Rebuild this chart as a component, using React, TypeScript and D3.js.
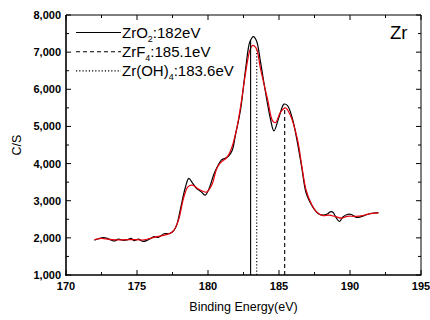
import React from "react";
import * as d3 from "d3";

// ---- data ----
const rawEnergy = [172.0,172.3,172.6,172.9,173.2,173.4,173.7,174.0,174.3,174.6,174.8,175.1,175.4,175.7,176.0,176.2,176.5,176.9,177.3,177.6,177.8,178.1,178.4,178.65,178.9,179.2,179.5,179.8,180.1,180.4,180.7,180.95,181.2,181.45,181.7,181.95,182.3,182.65,182.95,183.2,183.42,183.7,184.05,184.4,184.64,185.0,185.35,185.6,185.95,186.3,186.6,186.9,187.2,187.5,187.8,188.1,188.4,188.6,188.8,189.0,189.25,189.5,189.8,190.1,190.4,190.7,191.0,191.4,191.7,192.0];
const rawCounts = [1940,1975,2005,1990,1935,1915,1965,1935,1945,1985,1925,1965,1905,1930,1990,2035,2010,2110,2115,2200,2350,2850,3350,3600,3480,3330,3250,3150,3350,3700,3950,4100,4140,4200,4350,4800,5470,6550,7280,7420,7300,6730,5920,5200,4880,5250,5600,5560,5200,4560,3900,3220,2950,2760,2640,2610,2640,2700,2690,2560,2440,2560,2630,2630,2560,2560,2600,2650,2670,2680];

const fitEnergy = [172.0,172.5,173.0,173.5,174.0,174.5,175.0,175.5,176.0,176.5,177.0,177.5,177.9,178.3,178.6,178.9,179.3,179.6,179.9,180.3,180.6,180.9,181.3,181.6,182.0,182.3,182.65,182.95,183.15,183.4,183.7,184.2,184.55,184.75,185.1,185.45,185.8,186.3,186.6,186.9,187.3,187.7,188.1,188.5,189.0,189.4,189.8,190.3,190.8,191.3,192.0];
const fitCounts = [1950,1985,1960,1945,1945,1955,1950,1945,1995,2040,2080,2160,2450,3100,3380,3420,3320,3260,3230,3450,3850,4030,4150,4350,4900,5550,6450,7050,7180,7100,6550,5720,5150,5100,5380,5500,5300,4650,3950,3300,2900,2680,2600,2610,2570,2530,2580,2580,2590,2640,2670];

const peakNames = ["ZrO", "ZrF", "Zr(OH)"];
const peakSubs = ["2", "4", "4"];
const peakLabels = [":182eV", ":185.1eV", ":183.6eV"];
const peakPositions = [183.0, 185.4, 183.43];
const peakDash = ["none", "4,3", "1.2,2"];

const xTicks = [170, 175, 180, 185, 190, 195];
const yTicks = [1000, 2000, 3000, 4000, 5000, 6000, 7000, 8000];

const FONT = "'Liberation Sans', Arial, Helvetica, sans-serif";

export default function App() {
  const W = 430, H = 320;
  const L = 66, R = 421, T = 15, B = 275;
  const x = d3.scaleLinear().domain([170, 195]).range([L, R]);
  const y = d3.scaleLinear().domain([1000, 8000]).range([B, T]);

  const raw = rawEnergy.map((e, i) => [e, rawCounts[i]] as [number, number]);
  const fit = fitEnergy.map((e, i) => [e, fitCounts[i]] as [number, number]);
  const line = d3.line<[number, number]>().x(d => x(d[0])).y(d => y(d[1])).curve(d3.curveCatmullRom.alpha(0.5));

  const fitAt = (e: number) => {
    const i = d3.bisector((d: [number, number]) => d[0]).left(fit, e);
    const a = fit[Math.max(0, i - 1)], b = fit[Math.min(fit.length - 1, i)];
    if (a[0] === b[0]) return a[1];
    return a[1] + (b[1] - a[1]) * (e - a[0]) / (b[0] - a[0]);
  };
  const rawAt = (e: number) => {
    const i = d3.bisector((d: [number, number]) => d[0]).left(raw, e);
    const a = raw[Math.max(0, i - 1)], b = raw[Math.min(raw.length - 1, i)];
    if (a[0] === b[0]) return a[1];
    return a[1] + (b[1] - a[1]) * (e - a[0]) / (b[0] - a[0]);
  };

  const xMinor = d3.range(170, 195.01, 2.5);
  const yMinor = d3.range(1000, 8000.1, 500);

  return (
    <svg width={W} height={H} style={{ position: "absolute", left: 0, top: 0, background: "#fff" }} fontFamily={FONT}>
      <rect x={0} y={0} width={W} height={H} fill="#fff" />
      {/* curves */}
      <path d={line(raw) || ""} fill="none" stroke="#000" strokeWidth={1.2} />
      <path d={line(fit) || ""} fill="none" stroke="#e8000b" strokeWidth={1.2} />
      {/* peak lines */}
      {peakPositions.map((p, i) => (
        <line key={i} x1={x(p)} x2={x(p)} y1={B} y2={y(i === 0 ? rawAt(p) : fitAt(p))}
          stroke="#000" strokeWidth={1.1} strokeDasharray={peakDash[i]} />
      ))}
      {/* frame */}
      <line x1={L} x2={R} y1={T} y2={T} stroke="#000" strokeWidth={1} />
      <line x1={R} x2={R} y1={T} y2={B} stroke="#000" strokeWidth={1} />
      <line x1={L} x2={L} y1={T} y2={B + 0.75} stroke="#000" strokeWidth={1.6} />
      <line x1={L - 0.75} x2={R + 0.5} y1={B} y2={B} stroke="#000" strokeWidth={1.6} />
      {/* x ticks */}
      {xMinor.map((v, i) => {
        const major = i % 2 === 0;
        const len = major ? 5 : 3;
        return (
          <g key={"xt" + i}>
            <line x1={x(v)} x2={x(v)} y1={B} y2={B - len} stroke="#000" strokeWidth={1} />
            <line x1={x(v)} x2={x(v)} y1={T} y2={T + len} stroke="#000" strokeWidth={1} />
          </g>
        );
      })}
      {/* y ticks */}
      {yMinor.map((v, i) => {
        const major = i % 2 === 0;
        const len = major ? 5 : 3;
        return (
          <g key={"yt" + i}>
            <line x1={L} x2={L + len} y1={y(v)} y2={y(v)} stroke="#000" strokeWidth={1} />
            <line x1={R} x2={R - len} y1={y(v)} y2={y(v)} stroke="#000" strokeWidth={1} />
          </g>
        );
      })}
      {xTicks.map(v => (
        <text key={"xl" + v} x={x(v)} y={B + 15} textAnchor="middle" fontSize={11} fontWeight="bold">{v}</text>
      ))}
      {yTicks.map(v => (
        <text key={"yl" + v} x={L - 5} y={y(v) + 4} textAnchor="end" fontSize={11} fontWeight="bold">{d3.format(",")(v)}</text>
      ))}
      {/* axis titles */}
      <text x={(L + R) / 2} y={311} textAnchor="middle" fontSize={12.5}>Binding Energy(eV)</text>
      <text transform={`translate(21,${(T + B) / 2}) rotate(-90)`} textAnchor="middle" fontSize={12.5}>C/S</text>
      {/* Zr label */}
      <text x={390} y={39} fontSize={18.5}>Zr</text>
      {/* legend */}
      {peakNames.map((n, i) => {
        const order = [0, 1, 2][i];
        const ly = 32.5 + order * 19.2;
        const idx = i === 0 ? 0 : i === 1 ? 1 : 2;
        return (
          <g key={"lg" + i}>
            <line x1={76} x2={121} y1={ly} y2={ly} stroke="#000" strokeWidth={1.1} strokeDasharray={peakDash[idx]} />
            <text x={122} y={ly + 5} fontSize={15}>
              {n}
              <tspan fontSize={9} dy={4}>{peakSubs[i]}</tspan>
              <tspan dy={-4}>{peakLabels[i]}</tspan>
            </text>
          </g>
        );
      })}
    </svg>
  );
}
